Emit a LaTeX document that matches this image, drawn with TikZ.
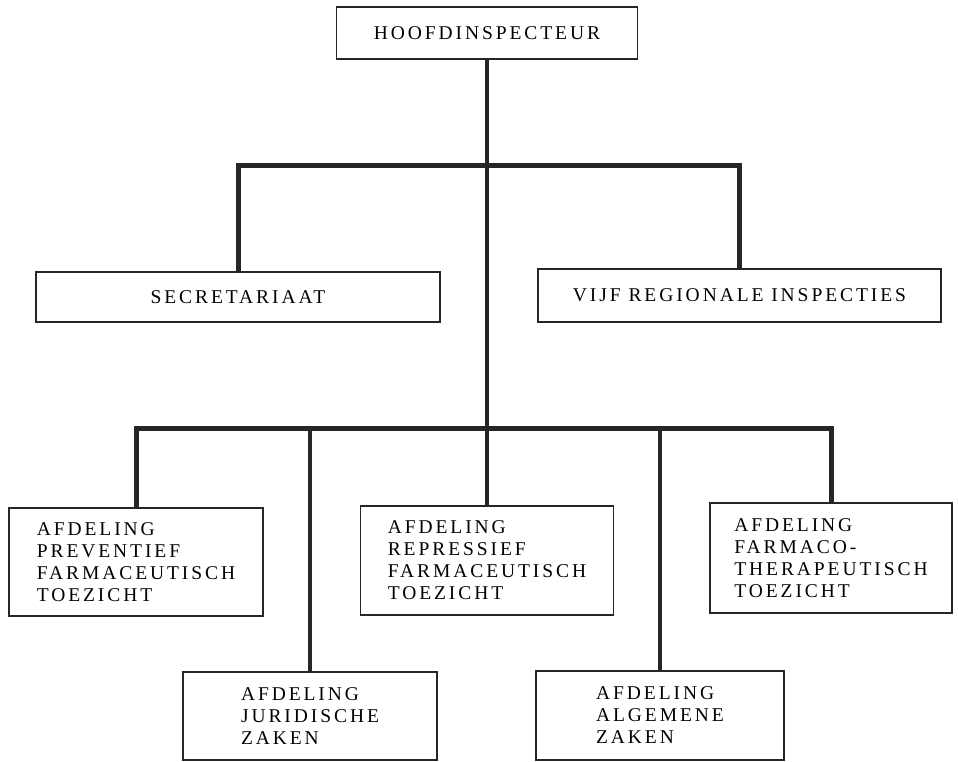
\documentclass[tikz,border=0pt]{standalone}
\usepackage{fontspec}
\setmainfont{Liberation Serif}[LetterSpace=15]

\begin{document}
\begin{tikzpicture}[x=1pt, y=-1pt,
		box/.style = {rectangle, draw=black!85, line width=1.8pt, align=left, inner sep=0pt, font=\fontsize{19.5}{22}\selectfont},
		bar/.style = {draw=black!85, line width=5pt},
		stem/.style = {draw=black!85, line width=4pt}]
			\useasboundingbox (0,0) rectangle (958,761);
			% boxes
			\node[box, minimum width=301, minimum height=52] (hoofd) at (487,33) {HOOFDINSPECTEUR};
			\node[box, minimum width=404, minimum height=50] (secr) at (238,297) {SECRETARIAAT};
			\node[box, minimum width=403, minimum height=53] (vijf) at (739.5,295.5) {VIJF REGIONALE INSPECTIES};
			\node[box, minimum width=254, minimum height=108] (prev) at (136,562) {AFDELING\\PREVENTIEF\\FARMACEUTISCH\\TOEZICHT};
			\node[box, minimum width=253, minimum height=109] (rep) at (487,560.5) {AFDELING\\REPRESSIEF\\FARMACEUTISCH\\TOEZICHT};
			\node[box, minimum width=242, minimum height=110] (farm) at (831,558) {AFDELING\\FARMACO-\\THERAPEUTISCH\\TOEZICHT};
			\node[box, minimum width=254, minimum height=88] (jur) at (310,716) {AFDELING\\JURIDISCHE\\ZAKEN};
			\node[box, minimum width=248, minimum height=89] (alg) at (660,715.5) {AFDELING\\ALGEMENE\\ZAKEN};
			\coordinate (topbar) at (487,165);
			\coordinate (lowbar) at (487,428);
			% connectors
			\draw[stem] (hoofd.south) -- (rep.north);
			\draw[bar] (secr.north) |- (topbar) -| (vijf.north);
			\draw[bar] (prev.north) |- (lowbar) -| (farm.north);
			\draw[stem] (jur.north) -- (jur.north |- lowbar);
			\draw[stem] (alg.north) -- (alg.north |- lowbar);
		\end{tikzpicture}
\end{document}
